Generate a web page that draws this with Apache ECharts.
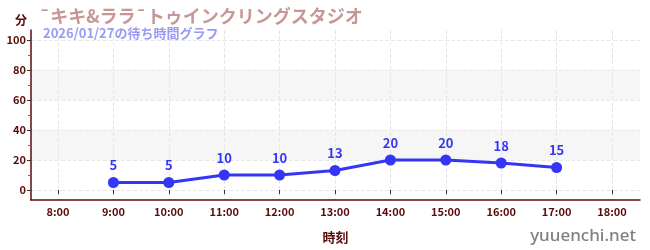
<!DOCTYPE html>
<html><head><meta charset="utf-8">
<script src="https://cdn.jsdelivr.net/npm/echarts@6/dist/echarts.min.js"></script>
<style>html,body{margin:0;padding:0;background:#fff}#c{width:650px;height:250px}</style>
</head><body><div id="c"></div>
<script>
const categories = ['8:00','9:00','10:00','11:00','12:00','13:00','14:00','15:00','16:00','17:00','18:00'];
const waitTimes = [null,5,5,10,10,13,20,20,18,15,null];
const yTicks = [0,20,40,60,80,100];
const titleText = '¯キキ&ララ¯トゥインクリングスタジオ';
const subtitleText = '2026/01/27の待ち時間グラフ';
const yName = '分';
const xName = '時刻';
const watermark = 'yuuenchi.net';

const dark = '#5c0a0a';
const font = '"Noto Sans CJK JP","Noto Sans",sans-serif';
const chart = echarts.init(document.getElementById('c'));
chart.setOption({
  animation:false,
  textStyle:{fontFamily:font},
  title:[
    {text:titleText,left:34,top:2,textStyle:{fontSize:18,fontWeight:'bold',color:'#c89696',fontFamily:font}},
    {text:subtitleText,left:38,top:22,textStyle:{fontSize:13,fontWeight:'bold',color:'#9a9af5',fontFamily:font}},
    {text:yName,left:10,top:9,textStyle:{fontSize:12,fontWeight:'bold',color:dark,fontFamily:font}},
    {text:watermark,right:9,top:223,textStyle:{fontSize:17,fontWeight:500,color:'#808080',fontFamily:'"Noto Sans",sans-serif'}}
  ],
  grid:[
    {left:31,right:10,top:30,bottom:50},
    {left:31,right:10,top:40,bottom:60},
    {left:58,right:38,top:30,bottom:50}
  ],
  xAxis:[
    {gridIndex:0,type:'value',min:0,max:1,axisLine:{show:true,lineStyle:{color:dark,width:1.5}},axisTick:{show:false},axisLabel:{show:false},splitLine:{show:false},
     name:xName,nameLocation:'middle',nameGap:31,nameTextStyle:{color:dark,fontWeight:'bold',fontSize:13}},
    {gridIndex:1,type:'value',min:0,max:1,show:false},
    {gridIndex:2,type:'category',data:categories,boundaryGap:false,
     axisLine:{show:false},
     axisTick:{show:true,length:4,inside:false,lineStyle:{color:'#333'}},
     axisLabel:{color:dark,fontSize:11,fontWeight:'bold',margin:6,interval:0},
     splitLine:{show:true,lineStyle:{color:'#e6e6e6',type:'dashed'}}}
  ],
  yAxis:[
    {gridIndex:0,type:'value',min:0,max:1,axisLine:{show:true,lineStyle:{color:dark,width:1.5}},axisTick:{show:false},axisLabel:{show:false},splitLine:{show:false}},
    {gridIndex:1,type:'value',min:yTicks[0],max:yTicks[yTicks.length-1],interval:20,
     axisLine:{show:false},
     axisTick:{show:true,length:4,lineStyle:{color:'#333'}},
     minorTick:{show:true,splitNumber:2,length:3,lineStyle:{color:'#e03030'}},
     axisLabel:{color:dark,fontSize:11,fontWeight:'bold',margin:5},
     splitLine:{show:true,lineStyle:{color:'#e8e8e8',type:'dashed'}},
     splitArea:{show:true,areaStyle:{color:['rgba(255,255,255,0)','#f6f6f6']}}},
    {gridIndex:2,type:'value',min:-20/3,max:320/3,show:false}
  ],
  series:[{
    type:'line',xAxisIndex:2,yAxisIndex:2,data:waitTimes,
    lineStyle:{color:'#3535f5',width:3},
    itemStyle:{color:'#3535f5'},
    symbol:'circle',symbolSize:11,
    label:{show:true,position:'top',color:'#3535f5',fontWeight:'bold',fontSize:13,distance:5}
  }]
});
</script></body></html>
